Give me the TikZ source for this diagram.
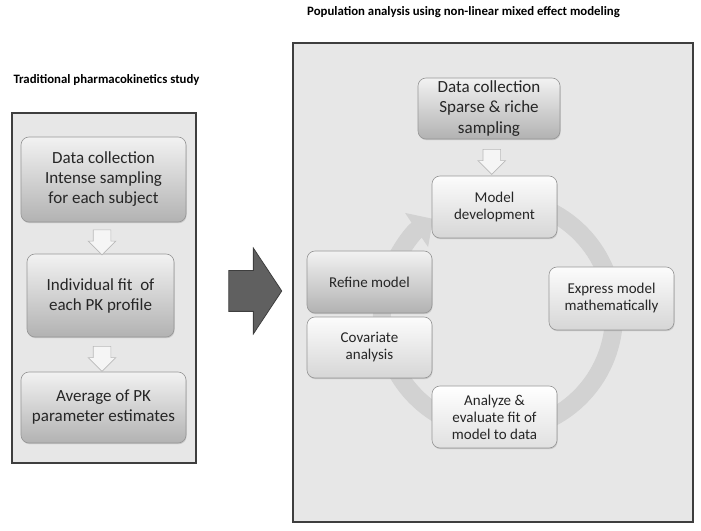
\documentclass[tikz,border=0pt]{standalone}
\usepackage{fontspec}
\setmainfont{Carlito}
\usetikzlibrary{shapes.arrows,arrows.meta,shadows,calc}
\definecolor{panelgray}{RGB}{231,231,231}
\definecolor{panelrim}{RGB}{62,62,62}
\definecolor{ringgray}{RGB}{210,210,210}
\definecolor{boxrim}{RGB}{150,150,150}
\definecolor{inkgray}{RGB}{38,38,38}
\definecolor{darktop}{RGB}{242,242,242}
\definecolor{darkbottom}{RGB}{178,178,178}
\definecolor{lighttop}{RGB}{252,252,252}
\definecolor{lightbottom}{RGB}{214,214,214}
\definecolor{bigarrowgray}{RGB}{96,96,96}

\begin{document}
\begin{tikzpicture}[x=1pt,y=1pt,
    panel/.style={draw=panelrim,line width=2.5pt,fill=panelgray},
    stepbox/.style={draw=boxrim,line width=0.6pt,rounded corners=8pt,align=center,
        text=inkgray,inner sep=0pt,
        drop shadow={shadow xshift=0.6pt,shadow yshift=-1.2pt,opacity=0.3}},
    darkbox/.style={stepbox,top color=darktop,bottom color=darkbottom},
    lightbox/.style={stepbox,top color=lighttop,bottom color=lightbottom},
    bigtext/.style={font=\fontsize{17}{20}\selectfont},
    smalltext/.style={font=\fontsize{15}{17}\selectfont},
    downarrow/.style={single arrow,shape border rotate=270,draw=gray!55,
        fill=white!96!black,line width=0.6pt,inner sep=0pt,
        minimum height=25pt,single arrow head extend=5pt},
    heading/.style={font=\bfseries\fontsize{12.8}{15}\selectfont,text=black}]
    \useasboundingbox (0,0) rectangle (701,530);

    % Traditional study
    \node[heading] (ltitle) at (106.5,450) {Traditional pharmacokinetics study};
    \draw[panel] (12,67) rectangle (196,417);
    \node[darkbox,bigtext,minimum width=165pt,minimum height=85pt] (lcoll) at (103.5,350.5)
        {Data collection\\Intense sampling\\for each subject};
    \node[darkbox,bigtext,minimum width=147pt,minimum height=83pt] (lfit) at (100.5,234.5)
        {Individual fit \ of\\each PK profile};
    \node[darkbox,bigtext,minimum width=165pt,minimum height=71pt] (lavg) at (103.5,122.5)
        {Average of PK\\parameter estimates};
    \node[downarrow] (larrowa) at ($(lcoll.south)!0.5!(lfit.north)$) {\rule{17pt}{0pt}};
    \node[downarrow] (larrowb) at ($(lfit.south)!0.5!(lavg.north)$) {\rule{17pt}{0pt}};

    % Switch of approach
    \node[single arrow,draw=panelrim,fill=bigarrowgray,line width=0.8pt,inner sep=0pt,
        minimum height=53pt,single arrow head extend=22.5pt,
        single arrow tip angle=113] (shift) at (248.5,239) {\rule{0pt}{40pt}};

    % Population analysis
    \node[heading] (rtitle) at (463.5,518)
        {Population analysis using non-linear mixed effect modeling};
    \draw[panel] (293,8) rectangle (693,487);
    \coordinate (ringc) at (498,215);
    \draw[ringgray,line width=18pt,-{Triangle[length=20pt,width=40pt]}]
        (ringc) ++(70:116) arc[start angle=70,end angle=-236,radius=116];

    \node[darkbox,bigtext,minimum width=142pt,minimum height=61pt,
        font=\fontsize{17}{20.5}\selectfont] (rcoll) at (489,421.5)
        {Data collection\\Sparse \& riche\\sampling};
    \node[lightbox,smalltext,minimum width=125pt,minimum height=62pt] (rdev) at (494.5,323)
        {Model\\development};
    \node[downarrow] (rarrow) at ($(rcoll.south)!0.5!(rdev.north)$) {\rule{17pt}{0pt}};
    \node[lightbox,smalltext,minimum width=125pt,minimum height=63pt] (express) at (611.5,231.5)
        {Express model\\mathematically};
    \node[lightbox,smalltext,minimum width=125pt,minimum height=62pt,
        top color=white,bottom color=white!88!black] (analyze) at (494.5,113)
        {Analyze \&\\evaluate fit of\\model to data};
    \node[lightbox,smalltext,minimum width=125pt,minimum height=61pt] (covar) at (369.5,182.5)
        {Covariate\\analysis};
    \node[darkbox,smalltext,minimum width=125pt,minimum height=62pt] (refine) at (369.5,248)
        {Refine model};
\end{tikzpicture}
\end{document}
